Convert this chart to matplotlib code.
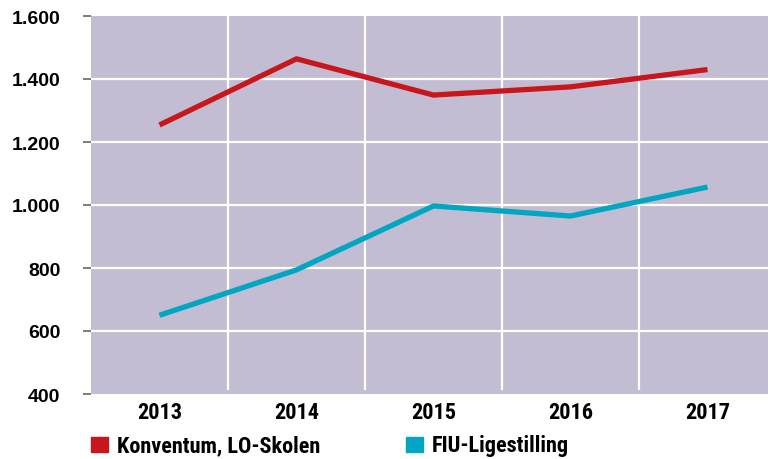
import matplotlib
matplotlib.use("Agg")
import matplotlib.pyplot as plt
from matplotlib.patches import Rectangle

years = ["2013", "2014", "2015", "2016", "2017"]
konventum = [1254, 1464, 1349, 1375, 1430]
fiu = [650, 794, 997, 965, 1057]
yticks = [400, 600, 800, 1000, 1200, 1400, 1600]
ytick_labels = ["400", "600", "800", "1.000", "1.200", "1.400", "1.600"]
series_names = ["Konventum, LO-Skolen", "FIU-Ligestilling"]

RED = "#c8161d"
TEAL = "#00a6c2"
BG = "#c2bdd2"

W, H = 768, 460
fig = plt.figure(figsize=(W / 100, H / 100), dpi=100)
left, right, top, bottom = 91, 776, 17, 395
ax = fig.add_axes([left / W, 1 - bottom / H, (right - left) / W, (bottom - top) / H])
ax.set_facecolor(BG)
for s in ax.spines.values():
    s.set_visible(False)

x = list(range(len(years)))
ax.set_xlim(-0.5, len(years) - 0.5)
ax.set_ylim(400, 1600)

# gridlines
for yv in yticks[1:-1]:
    ax.axhline(yv, color="white", lw=1.6, zorder=1)
for b in range(1, len(years)):
    ax.plot([b - 0.5, b - 0.5], [413, 1600], color="white", lw=1.6, zorder=1,
            solid_capstyle="butt")

ax.plot(x, konventum, color=RED, lw=3.8, zorder=3, solid_capstyle="butt")
ax.plot(x, fiu, color=TEAL, lw=3.8, zorder=3, solid_capstyle="butt")

narrow = ["Roboto Condensed", "DejaVu Sans"]
ax.set_yticks(yticks)
ax.set_yticklabels(ytick_labels, fontsize=14, fontweight="bold",
                   family=["Liberation Sans", "DejaVu Sans"])
ax.tick_params(axis="y", length=6, width=1.2, color="#666666", pad=16)
ax.set_xticks(x)
ax.set_xticklabels(years, fontsize=16, fontweight="bold", family=narrow)
ax.tick_params(axis="x", length=0, pad=5)

# legend
lx = [91, 406]
for i, (name, col) in enumerate(zip(series_names, [RED, TEAL])):
    fig.patches.append(Rectangle((lx[i] / W, 1 - 453 / H), 17 / W, 15 / H,
                                 transform=fig.transFigure, color=col, figure=fig))
    fig.text((lx[i] + 26) / W, 1 - 446 / H, name, fontsize=16, fontweight="bold",
             family=narrow, va="center", ha="left")

fig.savefig("out.png", dpi=100)
